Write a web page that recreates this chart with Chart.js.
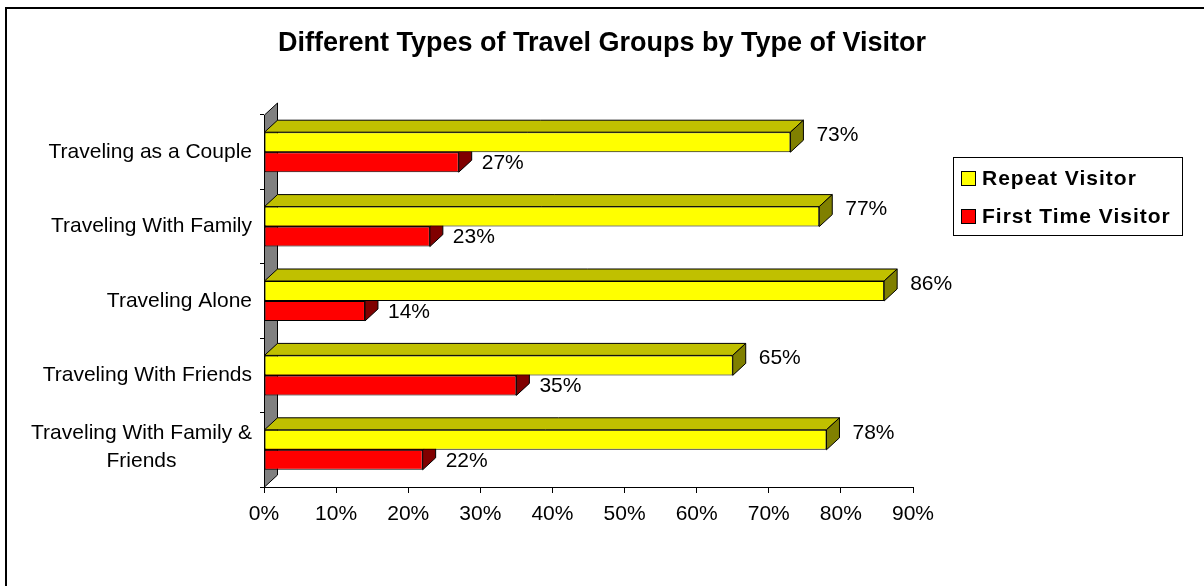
<!DOCTYPE html>
<html>
<head>
<meta charset="utf-8">
<script src="https://cdn.jsdelivr.net/npm/chart.js@4.4.1/dist/chart.umd.min.js"></script>
<style>
  html, body { margin: 0; padding: 0; background: #fff; overflow: hidden; }
  #wrap { position: relative; width: 1204px; height: 586px; }
  #frame {
    position: absolute; left: 5px; top: 7px; width: 1400px; height: 800px;
    border-left: 2px solid #000; border-top: 2px solid #000; pointer-events: none;
  }
  canvas { position: absolute; left: 0; top: 0; }
</style>
</head>
<body>
<div id="wrap">
  <canvas id="chart" width="1204" height="586"></canvas>
  <div id="frame"></div>
</div>
<script>
// Travel groups, top to bottom
const categories = [
  ["Traveling as a Couple"],
  ["Traveling With Family"],
  ["Traveling Alone"],
  ["Traveling With Friends"],
  ["Traveling With Family &", "Friends"],
]

const repeatVisitor = [73, 77, 86, 65, 78]
const firstTimeVisitor = [27, 23, 14, 35, 22]

const xMin = 0
const xMax = 90
const xStep = 10

const chartTitle = "Different Types of Travel Groups by Type of Visitor"

const FONT = "'Liberation Sans', Arial, sans-serif"

// depth of the fake 3d extrusion
const DX = 13
const DY = 12

const series = [
  {
    label: "Repeat Visitor",
    data: repeatVisitor,
    front: "#FFFF00",
    top: "#C0C000",
    side: "#808000",
    labelGap: 13,
    labelShift: -7,
  },
  {
    label: "First Time Visitor",
    data: firstTimeVisitor,
    front: "#FF0000",
    top: "#C00000",
    side: "#800000",
    labelGap: 10,
    labelShift: 1,
  },
]

const poly = (ctx, pts, fill) => {
  ctx.beginPath()
  ctx.moveTo(pts[0][0], pts[0][1])
  for (let i = 1; i < pts.length; i++) ctx.lineTo(pts[i][0], pts[i][1])
  ctx.closePath()
  ctx.fillStyle = fill
  ctx.fill()
  ctx.stroke()
}

const excel3d = {
  id: "excel3d",
  beforeDatasetsDraw(chart) {
    // grey side wall behind the bars
    const { ctx, chartArea: a } = chart
    ctx.save()
    ctx.strokeStyle = "#000"
    ctx.lineWidth = 1
    poly(ctx, [
      [a.left + 0.5, a.top],
      [a.left + DX + 0.5, a.top - DY],
      [a.left + DX + 0.5, a.bottom - DY],
      [a.left + 0.5, a.bottom],
    ], "#808080")
    ctx.restore()
  },
  afterDatasetDraw(chart, args) {
    const { ctx } = chart
    const s = series[args.index]
    ctx.save()
    ctx.strokeStyle = "#000"
    ctx.lineWidth = 1
    ctx.lineJoin = "miter"
    args.meta.data.forEach((bar) => {
      const t = bar.y - bar.height / 2
      const b = bar.y + bar.height / 2
      const x = bar.x
      const base = bar.base
      poly(ctx, [[base, t], [base + DX, t - DY], [x + DX, t - DY], [x, t]], s.top)
      poly(ctx, [[x, t], [x + DX, t - DY], [x + DX, b - DY], [x, b]], s.side)
    })
    ctx.restore()
  },
  afterDatasetsDraw(chart) {
    const { ctx } = chart
    ctx.save()
    ctx.font = `21px ${FONT}`
    ctx.fillStyle = "#000"
    ctx.textAlign = "left"
    ctx.textBaseline = "middle"
    series.forEach((s, i) => {
      chart.getDatasetMeta(i).data.forEach((bar, j) => {
        ctx.fillText(s.data[j] + "%", bar.x + DX + s.labelGap, bar.y + s.labelShift)
      })
    })
    ctx.restore()
  },
  afterDraw(chart) {
    const { ctx } = chart
    const y = chart.scales.y
    ctx.save()
    ctx.fillStyle = "#000"

    // category labels: block right aligned, lines centred within the block
    ctx.font = `21px ${FONT}`
    ctx.textAlign = "center"
    ctx.textBaseline = "middle"
    const right = 252
    const lh = 28
    categories.forEach((lines, i) => {
      const cy = y.getPixelForTick(i) - (lines.length > 1 ? 3 : 0)
      const w = Math.max(...lines.map((l) => ctx.measureText(l).width))
      lines.forEach((l, k) => {
        ctx.fillText(l, right - w / 2, cy + (k - (lines.length - 1) / 2) * lh)
      })
    })

    // title
    ctx.font = `bold 27px ${FONT}`
    ctx.fillText(chartTitle, 602, 44)

    // legend
    ctx.strokeStyle = "#000"
    ctx.lineWidth = 1
    ctx.strokeRect(953.5, 157.5, 229, 78)
    ctx.font = `bold 21px ${FONT}`
    ctx.letterSpacing = "1px"
    ctx.textAlign = "left"
    series.forEach((s, i) => {
      const ly = 179 + i * 38
      ctx.fillStyle = s.front
      ctx.fillRect(961.5, ly - 7.5, 14, 14)
      ctx.strokeRect(961.5, ly - 7.5, 14, 14)
      ctx.fillStyle = "#000"
      ctx.fillText(s.label, 982, ly)
    })
    ctx.restore()
  },
}

new Chart(document.getElementById("chart"), {
  type: "bar",
  data: {
    labels: categories,
    datasets: series.map((s) => ({
      label: s.label,
      data: s.data,
      backgroundColor: s.front,
      borderColor: "#000",
      borderWidth: 1,
      borderSkipped: false,
      categoryPercentage: 40 / 74.4,
      barPercentage: 1,
    })),
  },
  options: {
    indexAxis: "y",
    responsive: false,
    animation: false,
    layout: { padding: { left: 0, right: 291, top: 115, bottom: 0 } },
    plugins: {
      legend: { display: false },
      title: { display: false },
      tooltip: { enabled: false },
    },
    scales: {
      x: {
        min: xMin,
        max: xMax,
        ticks: {
          stepSize: xStep,
          color: "#000",
          padding: 9,
          font: { family: FONT, size: 21 },
          callback: (v) => v + "%",
        },
        grid: { drawOnChartArea: false, color: "#000", tickLength: 6 },
        border: { color: "#000", width: 1 },
        afterFit: (scale) => { scale.height = 99 },
      },
      y: {
        ticks: { display: false },
        grid: { drawOnChartArea: false, color: "#000", tickLength: 4, offset: true },
        border: { color: "#000", width: 1 },
        afterFit: (scale) => { scale.width = 264 },
      },
    },
  },
  plugins: [excel3d],
})
</script>
</body>
</html>
